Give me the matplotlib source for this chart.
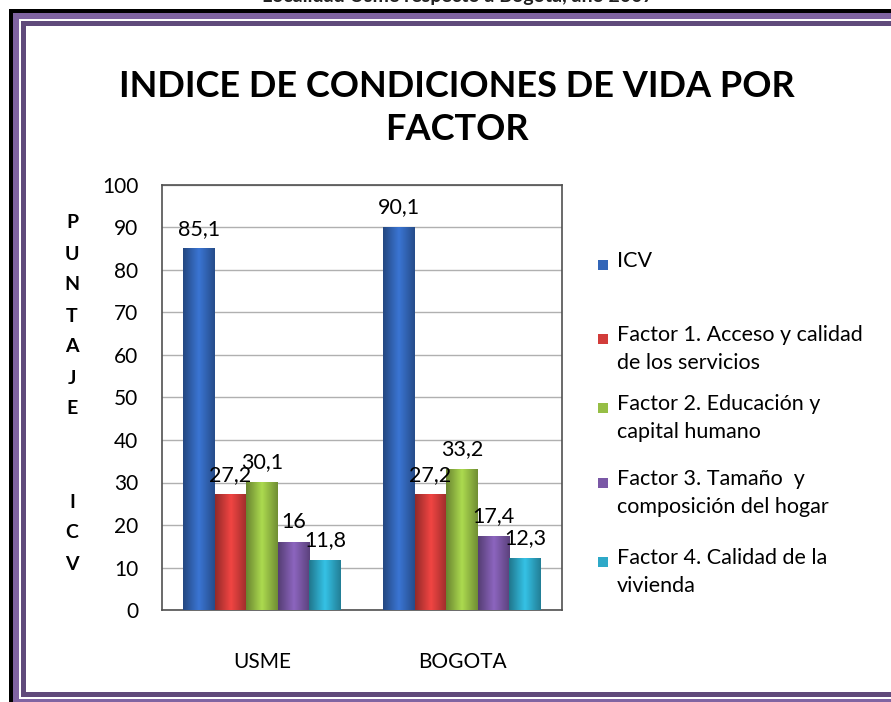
import matplotlib
matplotlib.use("Agg")
import matplotlib.pyplot as plt
import numpy as np
from matplotlib.patches import Rectangle
from matplotlib.colors import LinearSegmentedColormap, to_rgb

plt.rcParams['font.family'] = ['Lato', 'DejaVu Sans']

# data
categories = ["USME", "BOGOTA"]
series = ["ICV",
          "Factor 1. Acceso y calidad\nde los servicios",
          "Factor 2. Educación y\ncapital humano",
          "Factor 3. Tamaño  y\ncomposición del hogar",
          "Factor 4. Calidad de la\nvivienda"]
values = [[85.1, 90.1],
          [27.2, 27.2],
          [30.1, 33.2],
          [16, 17.4],
          [11.8, 12.3]]
labels = [["85,1", "90,1"],
          ["27,2", "27,2"],
          ["30,1", "33,2"],
          ["16", "17,4"],
          ["11,8", "12,3"]]
colors = ["#3366B8", "#D23C3A", "#96BE45", "#7A58A6", "#2EA9C8"]
ylab_letters = ["P", "U", "N", "T", "A", "J", "E", "I", "C", "V"]
ylab_rows = [0, 1, 2, 3, 4, 5, 6, 9, 10, 11]

W, H = 891, 702
fig = plt.figure(figsize=(W / 100, H / 100), dpi=100)

def px(x0, y0, x1, y1, c):
    # rectangle in pixel coords (y from top)
    fig.add_artist(Rectangle((x0 / W, 1 - y1 / H), (x1 - x0) / W, (y1 - y0) / H,
                             transform=fig.transFigure, color=c, lw=0, zorder=5))

# frame
px(9, 9, W, 13, "black")
px(9, 9, 13, H, "black")
px(13, 13, W, 19, "#8064A2")
px(13, 13, 19, H, "#8064A2")
px(21, 21, W, 26, "#604A7B")
px(21, 21, 26, 697, "#604A7B")
px(21, 692, W, 697, "#604A7B")
px(19, 699, W, H, "#8064A2")

# cut-off caption at the very top (cropped in the original too)
fig.text(458 / W, 1 - 2 / H, "Localidad Usme respecto a Bogota, año 2007", ha="center",
         va="baseline", fontsize=14, fontweight="bold", color="#222222")

fig.text(457 / W, 1 - 108 / H, "INDICE DE CONDICIONES DE VIDA POR\nFACTOR", ha="center",
         va="center", fontsize=26, fontweight="bold", linespacing=1.38)

ax = fig.add_axes([162 / W, 1 - 610 / H, 400 / W, 425 / H])
x = np.arange(len(categories))
bw = 0.158
for i, s in enumerate(series):
    pos = x + (i - 2) * bw
    bars = ax.bar(pos, values[i], bw, color=colors[i], zorder=3, label=s)
    base = np.array(to_rgb(colors[i]))
    cmap = LinearSegmentedColormap.from_list("g", [base * 0.7, np.minimum(base * 1.15, 1), base * 0.75])
    grad = np.linspace(0, 1, 64).reshape(1, -1)
    for b, lab in zip(bars, labels[i]):
        im = ax.imshow(grad, cmap=cmap, aspect="auto", zorder=3.5,
                       extent=(b.get_x(), b.get_x() + b.get_width(), 0, b.get_height()))
        im.set_clip_path(b)
        ax.annotate(lab, (b.get_x() + b.get_width() / 2, b.get_height()), xytext=(0, 7),
                    textcoords="offset points", ha="center", va="bottom", fontsize=15.5, zorder=6)

ax.set_xlim(-0.5, 1.5)
ax.set_ylim(0, 100)
ax.set_yticks(range(0, 101, 10))
ax.set_xticks(x)
ax.set_xticklabels(categories)
ax.tick_params(axis="y", length=0, pad=17, labelsize=15)
ax.tick_params(axis="x", length=0, pad=30, labelsize=15)
ax.grid(axis="y", color="#B0B0B0", lw=1, zorder=0)
for sp in ax.spines.values():
    sp.set_color("#505050")
    sp.set_linewidth(1.2)

# vertical axis title, letter by letter
for letter, row in zip(ylab_letters, ylab_rows):
    fig.text(72 / W, 1 - (223 + row * 31) / H, letter, ha="center", va="center",
             fontsize=14, fontweight="bold")

# legend
leg_y = [265, 339, 408, 483, 562]
for i, s in enumerate(series):
    px(598, leg_y[i] - 5, 608, leg_y[i] + 5, colors[i])
    fig.text(617 / W, 1 - (leg_y[i] - 14) / H, s, ha="left", va="top", fontsize=15.5,
             linespacing=1.5)

fig.savefig("out.png", dpi=100)
